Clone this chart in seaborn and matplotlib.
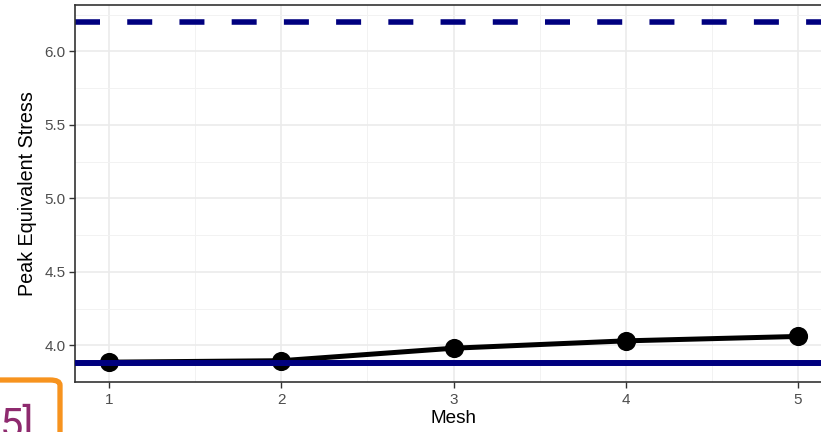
import matplotlib
matplotlib.use("Agg")
import matplotlib.pyplot as plt
import seaborn as sns
import pandas as pd
import numpy as np
from matplotlib.patches import FancyBboxPatch

mesh = [1, 2, 3, 4, 5]
peak_stress = [3.885, 3.895, 3.98, 4.03, 4.06]
ref_upper = 6.2
ref_lower = 3.88
y_ticks = [4.0, 4.5, 5.0, 5.5, 6.0]
x_ticks = [1, 2, 3, 4, 5]

df = pd.DataFrame({"Mesh": mesh, "Peak Equivalent Stress": peak_stress})

sns.set_theme(style="white")
plt.rcParams["font.family"] = ["Liberation Sans", "DejaVu Sans"]

W, H = 821, 432
fig = plt.figure(figsize=(W / 100, H / 100), dpi=100)
# panel extends past the right edge of the (cropped) image
left, right, top, bottom = 75, 832, 5, 382
ax = fig.add_axes([left / W, (H - bottom) / H, (right - left) / W, (bottom - top) / H])

navy = "#00007F"
ax.axhline(ref_upper, color=navy, lw=4.0, dashes=(4.5, 4.9), dash_capstyle="butt", zorder=2)
sns.lineplot(data=df, x="Mesh", y="Peak Equivalent Stress", ax=ax, color="black",
             lw=3.6, marker="o", markersize=13.8, markeredgewidth=0, zorder=3)
ax.axhline(ref_lower, color=navy, lw=4.3, zorder=4)

# ggplot-like expansion
xmin, xmax = min(mesh), max(mesh)
xr = xmax - xmin
ax.set_xlim(xmin - 0.05 * xr, xmax + 0.05 * xr)
ylo = min(min(peak_stress), ref_lower)
yhi = max(max(peak_stress), ref_upper)
yr = yhi - ylo
ax.set_ylim(ylo - 0.05 * yr, yhi + 0.05 * yr)

ax.set_xticks(x_ticks)
ax.set_xticklabels([str(v) for v in x_ticks])
ax.set_yticks(y_ticks)
ax.set_yticklabels([f"{v:.1f}" for v in y_ticks])
ax.set_xticks([1.5, 2.5, 3.5, 4.5], minor=True)
ax.set_yticks([3.75, 4.25, 4.75, 5.25, 5.75, 6.25], minor=True)

ax.grid(True, which="major", color="#EBEBEB", lw=1.2, zorder=0)
ax.grid(True, which="minor", color="#F2F2F2", lw=0.7, zorder=0)
ax.set_axisbelow(True)

for s in ax.spines.values():
    s.set_color("#333333")
    s.set_linewidth(1.2)

ax.tick_params(axis="both", which="major", direction="out", length=4, width=1,
               color="#333333", labelcolor="#4D4D4D", labelsize=11, pad=3,
               bottom=True, left=True)
ax.tick_params(axis="x", which="major", pad=4)
ax.tick_params(axis="both", which="minor", length=0)

ax.set_xlabel("Mesh", fontsize=13.6, color="black", labelpad=2)
ax.set_ylabel("Peak Equivalent Stress", fontsize=14.2, color="black", labelpad=5)

# overlay box in the lower-left corner
box = FancyBboxPatch((-20 / W, -30 / H), 80 / W, (H - 380 + 30) / H,
                     boxstyle="round,pad=0,rounding_size=0.012",
                     transform=fig.transFigure, facecolor="white",
                     edgecolor="#F7931E", lw=3.8, clip_on=False, zorder=10)
fig.patches.append(box)
fig.text(34 / W, -6 / H, "5]", transform=fig.transFigure, ha="right", va="baseline",
         fontsize=30, color="#8E2A6E", family=["Roboto", "DejaVu Sans"], zorder=11)

fig.savefig("out.png", dpi=100)
